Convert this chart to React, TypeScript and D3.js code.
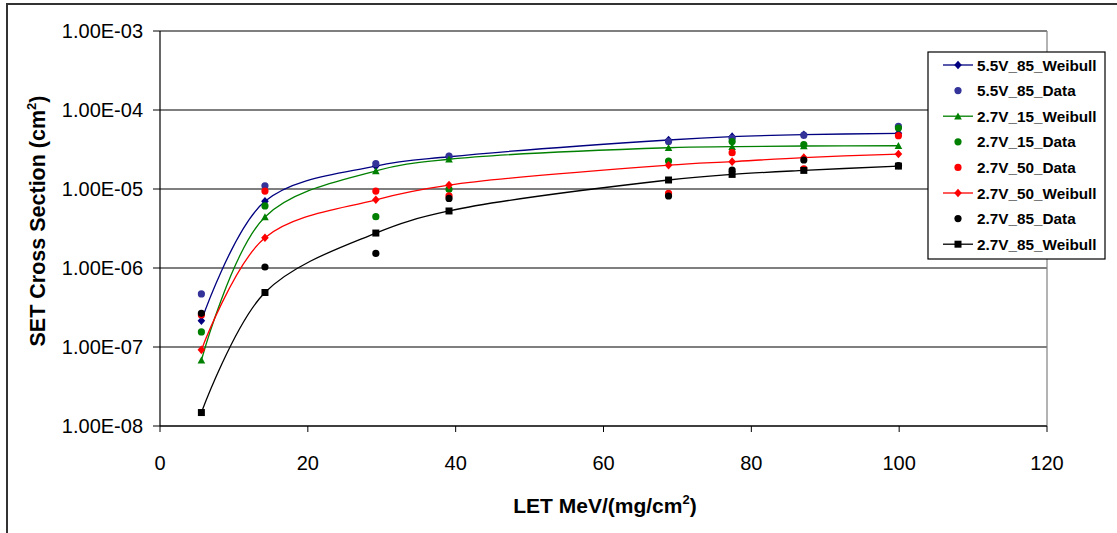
import React from 'react';
import * as d3 from 'd3';

// LET values (MeV/(mg/cm2)) where the data and fit markers sit
const let_ = [5.6, 14.2, 29.2, 39.1, 68.8, 77.4, 87.1, 99.9];

const w55_85 = [2.15e-7, 6.98e-6, 1.95e-5, 2.56e-5, 4.17e-5, 4.6e-5, 4.87e-5, 5.07e-5];
const d55_85 = [4.7e-7, 1.1e-5, 2.09e-5, 2.6e-5, 4.0e-5, 4.4e-5, 4.8e-5, 6.2e-5];
const w27_15 = [6.8e-8, 4.43e-6, 1.69e-5, 2.38e-5, 3.33e-5, 3.43e-5, 3.5e-5, 3.53e-5];
const d27_15 = [1.55e-7, 6.1e-6, 4.47e-6, 9.9e-6, 2.26e-5, 3.98e-5, 3.65e-5, 5.9e-5];
const d27_50 = [2.55e-7, 9.4e-6, 9.4e-6, 8.2e-6, 8.8e-6, 2.88e-5, 1.8e-5, 4.73e-5];
const w27_50 = [9.2e-8, 2.42e-6, 7.3e-6, 1.12e-5, 2.0e-5, 2.22e-5, 2.5e-5, 2.77e-5];
const d27_85 = [2.67e-7, 1.03e-6, 1.53e-6, 7.6e-6, 8.15e-6, 1.74e-5, 2.33e-5, 1.98e-5];
const w27_85 = [1.48e-8, 4.9e-7, 2.77e-6, 5.27e-6, 1.3e-5, 1.53e-5, 1.72e-5, 1.95e-5];

const yTicks = [1e-8, 1e-7, 1e-6, 1e-5, 1e-4, 1e-3];
const xTicks = [0, 20, 40, 60, 80, 100, 120];

type Marker = 'diamond' | 'circle' | 'triangle' | 'square';
type Series = { name: string; values: number[]; color: string; marker: Marker; line: boolean };

const series: Series[] = [
  { name: '5.5V_85_Weibull', values: w55_85, color: '#000080', marker: 'diamond', line: true },
  { name: '5.5V_85_Data', values: d55_85, color: '#333399', marker: 'circle', line: false },
  { name: '2.7V_15_Weibull', values: w27_15, color: '#008000', marker: 'triangle', line: true },
  { name: '2.7V_15_Data', values: d27_15, color: '#008000', marker: 'circle', line: false },
  { name: '2.7V_50_Data', values: d27_50, color: '#FF0000', marker: 'circle', line: false },
  { name: '2.7V_50_Weibull', values: w27_50, color: '#FF0000', marker: 'diamond', line: true },
  { name: '2.7V_85_Data', values: d27_85, color: '#000000', marker: 'circle', line: false },
  { name: '2.7V_85_Weibull', values: w27_85, color: '#000000', marker: 'square', line: true },
];

const font = '"Liberation Sans", Arial, sans-serif';

const markerPath = (m: Marker, cx: number, cy: number) => {
  const s = 3.8;
  if (m === 'diamond') return `M${cx},${cy - s - 0.5}L${cx + s},${cy}L${cx},${cy + s + 0.5}L${cx - s},${cy}Z`;
  if (m === 'triangle') return `M${cx},${cy - s}L${cx + s},${cy + s - 0.5}L${cx - s},${cy + s - 0.5}Z`;
  if (m === 'square') return `M${cx - 3.5},${cy - 3.5}h7v7h-7Z`;
  return `M${cx - 3.6},${cy}a3.6,3.6 0 1,0 7.2,0a3.6,3.6 0 1,0 -7.2,0Z`;
};

export default function App() {
  const left = 160, right = 1047, top = 31, bottom = 426;
  const x = d3.scaleLinear().domain([0, 120]).range([left, right]);
  const y = d3.scaleLog().domain([1e-8, 1e-3]).range([bottom, top]);
  const line = d3
    .line<number>()
    .x((_, i) => x(let_[i]))
    .y((d) => y(d))
    .curve(d3.curveCatmullRom.alpha(0.5));

  const legX = 928, legY = 52, legW = 177, legH = 207, rowH = 25.6;

  return (
    <svg width={1117} height={533} style={{ position: 'absolute', left: 0, top: 0 }} fontFamily={font}>
      <rect x={0} y={0} width={1117} height={533} fill="#fff" />
      <rect x={7} y={4} width={1130} height={560} fill="none" stroke="#333" strokeWidth={2} />

      {/* grid lines */}
      {yTicks.map((t) => (
        <line key={t} x1={left} x2={right} y1={y(t)} y2={y(t)} stroke="#000" strokeWidth={1.2} />
      ))}
      <line x1={right} x2={right} y1={top} y2={bottom} stroke="#808080" strokeWidth={1.2} />

      {/* y axis */}
      <line x1={left} x2={left} y1={top} y2={bottom} stroke="#000" strokeWidth={1.2} />
      {yTicks.map((t) => (
        <g key={t}>
          <line x1={left - 7} x2={left} y1={y(t)} y2={y(t)} stroke="#000" strokeWidth={1} />
          <text x={143} y={y(t)} dy="0.36em" textAnchor="end" fontSize={20} fill="#000">
            {t.toExponential(2).toUpperCase().replace(/E-(\d)$/, 'E-0$1')}
          </text>
        </g>
      ))}

      {/* x axis */}
      <line x1={left} x2={right} y1={bottom} y2={bottom} stroke="#000" strokeWidth={1.2} />
      {xTicks.map((t) => (
        <g key={t}>
          <line x1={x(t)} x2={x(t)} y1={bottom} y2={bottom + 6} stroke="#000" strokeWidth={1} />
          <text x={x(t)} y={470} textAnchor="middle" fontSize={20} fill="#000">
            {t}
          </text>
        </g>
      ))}

      {/* axis titles */}
      <text x={605} y={513} textAnchor="middle" fontSize={21} fontWeight="bold" fill="#000">
        LET MeV/(mg/cm<tspan fontSize={13} dy={-9}>2</tspan>
        <tspan dy={9}>)</tspan>
      </text>
      <text
        transform="translate(45,221) rotate(-90)"
        textAnchor="middle"
        fontSize={21.5}
        fontWeight="bold"
        fill="#000"
      >
        SET Cross Section (cm<tspan fontSize={13} dy={-9}>2</tspan>
        <tspan dy={9}>)</tspan>
      </text>

      {/* series */}
      {series.map((s) => (
        <g key={s.name}>
          {s.line && <path d={line(s.values) || ''} fill="none" stroke={s.color} strokeWidth={1.3} />}
          {s.values.map((v, i) => (
            <path key={i} d={markerPath(s.marker, x(let_[i]), y(v))} fill={s.color} />
          ))}
        </g>
      ))}

      {/* legend */}
      <rect x={legX} y={legY} width={legW} height={legH} fill="#fff" stroke="#000" strokeWidth={1.2} />
      {series.map((s, i) => {
        const cy = legY + 13 + i * rowH;
        return (
          <g key={s.name}>
            {s.line && <line x1={943} x2={973} y1={cy} y2={cy} stroke={s.color} strokeWidth={1.3} />}
            <path d={markerPath(s.marker, 958, cy)} fill={s.color} />
            <text x={977} y={cy} dy="0.36em" fontSize={15.3} fontWeight="bold" fill="#000">
              {s.name}
            </text>
          </g>
        );
      })}
    </svg>
  );
}
